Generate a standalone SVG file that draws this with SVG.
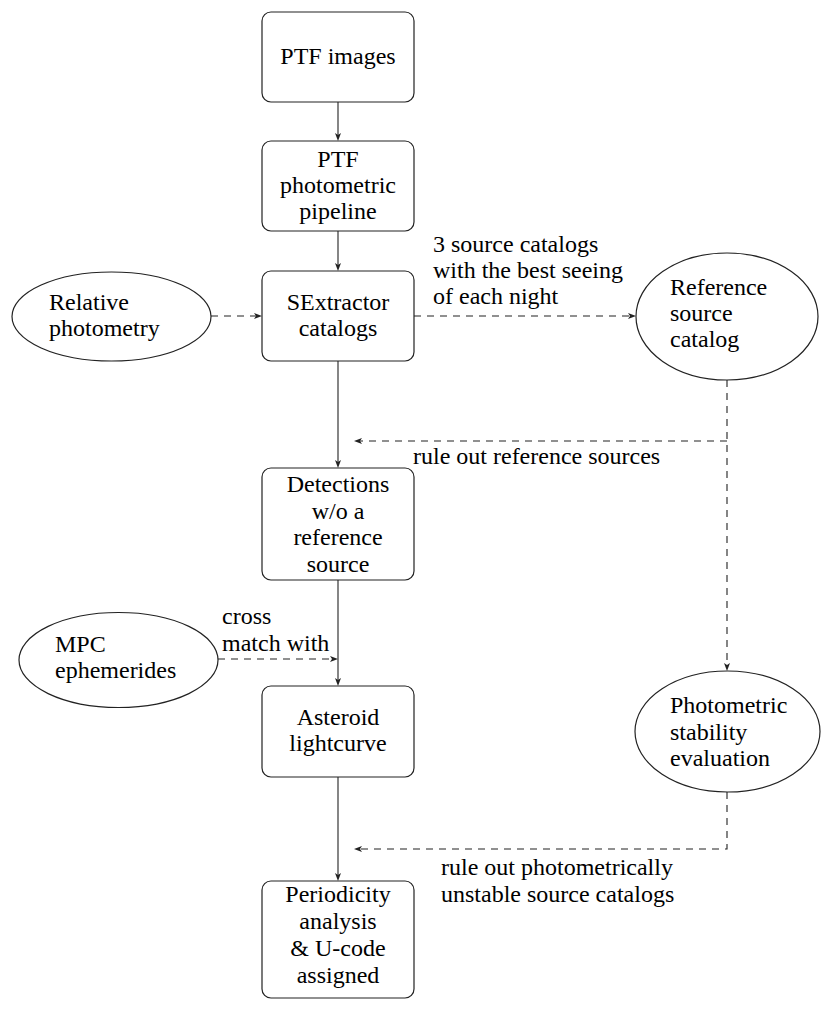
<svg xmlns="http://www.w3.org/2000/svg" width="830" height="1010" viewBox="0 0 830 1010">
<rect width="830" height="1010" fill="#fff"/>
<g id="connectors" fill="none" stroke="#222" stroke-width="1.1">
<line x1="338" y1="102" x2="338" y2="135"/>
<line x1="338" y1="231" x2="338" y2="265"/>
<line x1="338" y1="361" x2="338" y2="462"/>
<line x1="338" y1="580" x2="338" y2="680"/>
<line x1="338" y1="777" x2="338" y2="875"/>
<g stroke-dasharray="7 6">
<line x1="211" y1="316" x2="256" y2="316"/>
<line x1="414" y1="316" x2="630" y2="316"/>
<line x1="727" y1="380" x2="727" y2="665"/>
<line x1="727" y1="441" x2="360" y2="441"/>
<line x1="218" y1="659" x2="332" y2="659"/>
<polyline points="727,792 727,849 360,849"/>
</g>
<g fill="#222" stroke="none">
<path d="M338,141 L335,133 L338,135 L341,133 Z"/>
<path d="M338,271 L335,263 L338,265 L341,263 Z"/>
<path d="M338,468 L335,460 L338,462 L341,460 Z"/>
<path d="M338,686 L335,678 L338,680 L341,678 Z"/>
<path d="M338,881 L335,873 L338,875 L341,873 Z"/>
<path d="M262,316 L254,313 L256,316 L254,319 Z"/>
<path d="M636,316 L628,313 L630,316 L628,319 Z"/>
<path d="M727,671 L724,663 L727,665 L730,663 Z"/>
<path d="M354,441 L362,438 L360,441 L362,444 Z"/>
<path d="M338,659 L330,656 L332,659 L330,662 Z"/>
<path d="M354,849 L362,846 L360,849 L362,852 Z"/>
</g>
</g>
<g id="labels">
<text x="433" y="252" font-family="Liberation Serif" font-size="24">3 source catalogs</text>
<text x="433" y="278" font-family="Liberation Serif" font-size="24">with the best seeing</text>
<text x="433" y="304" font-family="Liberation Serif" font-size="24">of each night</text>
<text x="413" y="464" font-family="Liberation Serif" font-size="24">rule out reference sources</text>
<text x="222" y="624" font-family="Liberation Serif" font-size="24">cross</text>
<text x="222" y="651" font-family="Liberation Serif" font-size="24">match with</text>
<text x="441" y="875" font-family="Liberation Serif" font-size="24">rule out photometrically</text>
<text x="441" y="902" font-family="Liberation Serif" font-size="24">unstable source catalogs</text>
</g>
<g id="ptf-images">
<rect x="262" y="12" width="152" height="90" rx="9" fill="#fff" stroke="#222" stroke-width="1.2"/>
<text x="338" y="64" font-family="Liberation Serif" font-size="24" text-anchor="middle">PTF images</text>
</g>
<g id="ptf-pipeline">
<rect x="262" y="141" width="152" height="90" rx="9" fill="#fff" stroke="#222" stroke-width="1.2"/>
<text x="338" y="167" font-family="Liberation Serif" font-size="24" text-anchor="middle">PTF</text>
<text x="338" y="193" font-family="Liberation Serif" font-size="24" text-anchor="middle">photometric</text>
<text x="338" y="219" font-family="Liberation Serif" font-size="24" text-anchor="middle">pipeline</text>
</g>
<g id="sextractor">
<rect x="262" y="271" width="152" height="90" rx="9" fill="#fff" stroke="#222" stroke-width="1.2"/>
<text x="338" y="310" font-family="Liberation Serif" font-size="24" text-anchor="middle">SExtractor</text>
<text x="338" y="336" font-family="Liberation Serif" font-size="24" text-anchor="middle">catalogs</text>
</g>
<g id="relative-photometry">
<ellipse cx="111.5" cy="316.5" rx="99.5" ry="44.5" fill="#fff" stroke="#222" stroke-width="1.2"/>
<text x="49" y="310" font-family="Liberation Serif" font-size="24">Relative</text>
<text x="49" y="336" font-family="Liberation Serif" font-size="24">photometry</text>
</g>
<g id="reference-catalog">
<ellipse cx="727" cy="316.5" rx="91" ry="63.5" fill="#fff" stroke="#222" stroke-width="1.2"/>
<text x="670" y="295" font-family="Liberation Serif" font-size="24">Reference</text>
<text x="670" y="321" font-family="Liberation Serif" font-size="24">source</text>
<text x="670" y="347" font-family="Liberation Serif" font-size="24">catalog</text>
</g>
<g id="detections">
<rect x="262" y="468" width="152" height="112" rx="9" fill="#fff" stroke="#222" stroke-width="1.2"/>
<text x="338" y="492" font-family="Liberation Serif" font-size="24" text-anchor="middle">Detections</text>
<text x="338" y="518.5" font-family="Liberation Serif" font-size="24" text-anchor="middle">w/o a</text>
<text x="338" y="545" font-family="Liberation Serif" font-size="24" text-anchor="middle">reference</text>
<text x="338" y="571.5" font-family="Liberation Serif" font-size="24" text-anchor="middle">source</text>
</g>
<g id="mpc-ephemerides">
<ellipse cx="118.5" cy="660" rx="99.5" ry="47.5" fill="#fff" stroke="#222" stroke-width="1.2"/>
<text x="55" y="652" font-family="Liberation Serif" font-size="24">MPC</text>
<text x="55" y="678" font-family="Liberation Serif" font-size="24">ephemerides</text>
</g>
<g id="asteroid-lightcurve">
<rect x="262" y="686" width="152" height="91" rx="9" fill="#fff" stroke="#222" stroke-width="1.2"/>
<text x="338" y="725" font-family="Liberation Serif" font-size="24" text-anchor="middle">Asteroid</text>
<text x="338" y="751" font-family="Liberation Serif" font-size="24" text-anchor="middle">lightcurve</text>
</g>
<g id="photometric-stability">
<ellipse cx="727.5" cy="731.5" rx="92.5" ry="60.5" fill="#fff" stroke="#222" stroke-width="1.2"/>
<text x="670" y="713" font-family="Liberation Serif" font-size="24">Photometric</text>
<text x="670" y="740" font-family="Liberation Serif" font-size="24">stability</text>
<text x="670" y="766" font-family="Liberation Serif" font-size="24">evaluation</text>
</g>
<g id="periodicity">
<rect x="262" y="881" width="152" height="117" rx="9" fill="#fff" stroke="#222" stroke-width="1.2"/>
<text x="338" y="902" font-family="Liberation Serif" font-size="24" text-anchor="middle">Periodicity</text>
<text x="338" y="929" font-family="Liberation Serif" font-size="24" text-anchor="middle">analysis</text>
<text x="338" y="956" font-family="Liberation Serif" font-size="24" text-anchor="middle">&amp; U-code</text>
<text x="338" y="983" font-family="Liberation Serif" font-size="24" text-anchor="middle">assigned</text>
</g>
</svg>
